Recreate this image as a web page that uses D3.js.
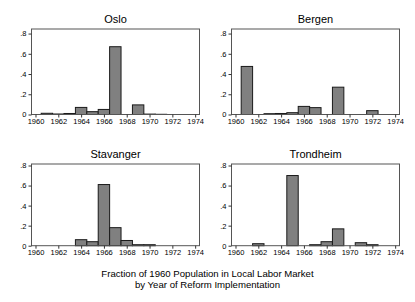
<!DOCTYPE html>
<html lang="en">
<head>
<meta charset="UTF-8">
<title>Reform implementation</title>
<script src="https://d3js.org/d3.v7.min.js"></script>
<style>
  body { margin: 0; background: #fff; }
  text { font-family: "Liberation Sans", Arial, sans-serif; fill: #000; }
</style>
</head>
<body>
<svg id="canvas"></svg>
<script>
// data
let cities = ['Oslo', 'Bergen', 'Stavanger', 'Trondheim']
let osloYears = [1961, 1962, 1963, 1964, 1965, 1966, 1967, 1969, 1970, 1971]
let osloValues = [0.012, 0.005, 0.01, 0.07, 0.028, 0.05, 0.67, 0.095, 0.004, 0.002]
let bergenYears = [1961, 1963, 1964, 1965, 1966, 1967, 1969, 1972]
let bergenValues = [0.475, 0.008, 0.01, 0.018, 0.08, 0.068, 0.27, 0.038]
let stavangerYears = [1964, 1965, 1966, 1967, 1968, 1969, 1970]
let stavangerValues = [0.06, 0.04, 0.61, 0.18, 0.052, 0.01, 0.01]
let trondheimYears = [1962, 1965, 1967, 1968, 1969, 1971, 1972]
let trondheimValues = [0.02, 0.70, 0.01, 0.04, 0.168, 0.03, 0.01]
let yearTicks = [1960, 1962, 1964, 1966, 1968, 1970, 1972, 1974]
let fracTicks = [0, 0.2, 0.4, 0.6, 0.8]
let fracLabels = ['0', '.2', '.4', '.6', '.8']

let width = 415
let height = 302

let svg = d3.select('svg').attr('width', width).attr('height', height)

let panels = [
  { name: cities[0], years: osloYears, values: osloValues, x: 31.5, y: 29, ymax: 0.845 },
  { name: cities[1], years: bergenYears, values: bergenValues, x: 231.5, y: 29, ymax: 0.845 },
  { name: cities[2], years: stavangerYears, values: stavangerValues, x: 31.5, y: 164, ymax: 0.815 },
  { name: cities[3], years: trondheimYears, values: trondheimValues, x: 231.5, y: 164, ymax: 0.815 }
]

let pw = 168
let baseGap = 0.3   // px between 0 line and bottom frame

let makePanel = (p) => {
  let g = svg.append('g').attr('transform', 'translate(' + p.x + ',' + p.y + ')')
  let bottom = p.y < 100 ? 114.5 - p.y : 245.7 - p.y

  let xScale = d3.scaleLinear().domain([1959.65, 1974.38]).range([0, pw])
  let yScale = d3.scaleLinear().domain([0, p.ymax]).range([bottom, 0])

  let rows = p.years.map((yr, i) => [yr, p.values[i]])

  g.selectAll('rect.bar')
    .data(rows)
    .enter()
    .append('rect')
    .attr('class', 'bar')
    .attr('x', d => xScale(d[0] - 0.5))
    .attr('width', d => xScale(d[0] + 0.5) - xScale(d[0] - 0.5))
    .attr('y', d => yScale(d[1]))
    .attr('height', d => Math.max(0.01, yScale(0) - yScale(d[1])))
    .attr('fill', '#808080')
    .attr('stroke', '#1a1a1a')
    .attr('stroke-width', 1)

  // frame
  g.append('rect')
    .attr('x', 0).attr('y', 0)
    .attr('width', pw).attr('height', bottom)
    .attr('fill', 'none')
    .attr('stroke', '#555')
    .attr('stroke-width', 1)

  let xAxis = d3.axisBottom(xScale).tickValues(yearTicks).tickFormat(d3.format('d'))
    .tickSize(3).tickPadding(1)
  let ax = g.append('g').attr('transform', 'translate(0,' + bottom + ')').call(xAxis)
  ax.select('.domain').remove()
  ax.selectAll('line').attr('stroke', '#333')
  ax.selectAll('text').style('font-size', '7.5px').attr('fill', '#000')

  let yAxis = d3.axisLeft(yScale).tickValues(fracTicks).tickFormat((d, i) => fracLabels[i])
    .tickSize(3).tickPadding(2)
  let ay = g.append('g').call(yAxis)
  ay.select('.domain').remove()
  ay.selectAll('line').attr('stroke', '#333')
  ay.selectAll('text').style('font-size', '7.5px').attr('fill', '#000')

  g.append('text')
    .attr('x', pw / 2)
    .attr('y', -6)
    .attr('text-anchor', 'middle')
    .style('font-size', '11px')
    .text(p.name)
}

panels.forEach(makePanel)

svg.append('text').attr('x', 207.5).attr('y', 277).attr('text-anchor', 'middle')
  .style('font-size', '9.6px').text('Fraction of 1960 Population in Local Labor Market')
svg.append('text').attr('x', 207.5).attr('y', 287.5).attr('text-anchor', 'middle')
  .style('font-size', '9.6px').text('by Year of Reform Implementation')
</script>
</body>
</html>
